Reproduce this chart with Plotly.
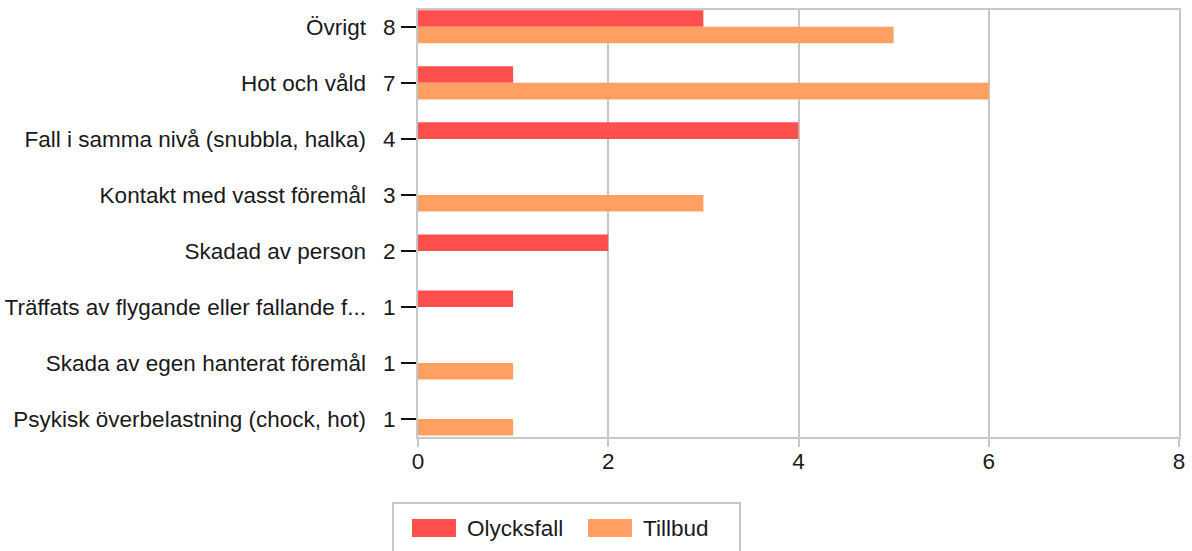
import plotly.graph_objects as go

categories = [
    "Övrigt",
    "Hot och våld",
    "Fall i samma nivå (snubbla, halka)",
    "Kontakt med vasst föremål",
    "Skadad av person",
    "Träffats av flygande eller fallande f...",
    "Skada av egen hanterat föremål",
    "Psykisk överbelastning (chock, hot)",
]
olycksfall = [3, 1, 4, 0, 2, 1, 0, 0]
tillbud = [5, 6, 0, 3, 0, 0, 1, 1]
series_names = ["Olycksfall", "Tillbud"]
colors = ["#FF4F4F", "#FF9F62"]
x_ticks = [0, 2, 4, 6, 8]

totals = [a + b for a, b in zip(olycksfall, tillbud)]
ticktext = [f"{c}\u00a0\u00a0\u2009{t}" for c, t in zip(categories, totals)]

FONT = "Liberation Sans, Arial, sans-serif"
FS = 22.5
TXT = "#1a1a1a"
GRID = "#c8c8c8"

W, H = 1192, 551
L, R, T, B = 418, 13, 10, 114
PW, PH = W - L - R, H - T - B

fig = go.Figure()
for name, vals, col in zip(series_names, [olycksfall, tillbud], colors):
    fig.add_trace(go.Bar(
        y=categories, x=vals, name=name, orientation="h",
        marker=dict(color=col, line=dict(width=0)),
        showlegend=False,
    ))

fig.update_layout(
    width=W, height=H,
    margin=dict(l=L, r=R, t=T, b=B, autoexpand=False),
    paper_bgcolor="white", plot_bgcolor="white",
    barmode="group", bargap=0.41, bargroupgap=0,
    font=dict(family=FONT, size=FS, color=TXT),
    xaxis=dict(
        range=[0, 8], tickvals=x_ticks, showgrid=True, gridcolor=GRID, gridwidth=1.5,
        showline=True, linecolor=GRID, linewidth=2, mirror=True,
        ticks="outside", ticklen=8, tickcolor=GRID, tickwidth=2,
        ticklabelstandoff=-5,
        zeroline=False, tickfont=dict(family=FONT, size=FS, color=TXT),
        fixedrange=True,
    ),
    yaxis=dict(
        type="category", categoryorder="array", categoryarray=categories,
        range=[7.32, -0.30],
        tickvals=categories, ticktext=ticktext,
        showgrid=False, showline=True, linecolor=GRID, linewidth=2, mirror=True,
        ticks="outside", ticklen=15, tickcolor="#111111", tickwidth=2,
        ticklabelstandoff=1,
        tickfont=dict(family=FONT, size=FS, color=TXT),
        zeroline=False, fixedrange=True,
    ),
)

# custom legend (box, swatches, labels)
def px_x(p):
    return (p - L) / PW

def px_y(p):
    return (H - B - p) / PH

shapes = [dict(type="rect", xref="paper", yref="paper",
               x0=px_x(393), x1=px_x(740), y0=px_y(560), y1=px_y(503),
               line=dict(color=GRID, width=2), fillcolor="rgba(0,0,0,0)")]
annotations = []
legend_pos = [(412, 467), (588, 643)]
for (sx, tx), name, col in zip(legend_pos, series_names, colors):
    shapes.append(dict(type="rect", xref="paper", yref="paper",
                       x0=px_x(sx), x1=px_x(sx + 44), y0=px_y(537), y1=px_y(519),
                       line=dict(width=0), fillcolor=col))
    annotations.append(dict(xref="paper", yref="paper", x=px_x(tx), y=px_y(528),
                            text=name, showarrow=False, xanchor="left", yanchor="middle",
                            xshift=-2,
                            font=dict(family=FONT, size=FS, color=TXT)))
fig.update_layout(shapes=shapes, annotations=annotations)

fig.write_html("out.html", config={"displayModeBar": False},
               post_script="document.body.style.margin='0';document.body.style.overflow='hidden';")
